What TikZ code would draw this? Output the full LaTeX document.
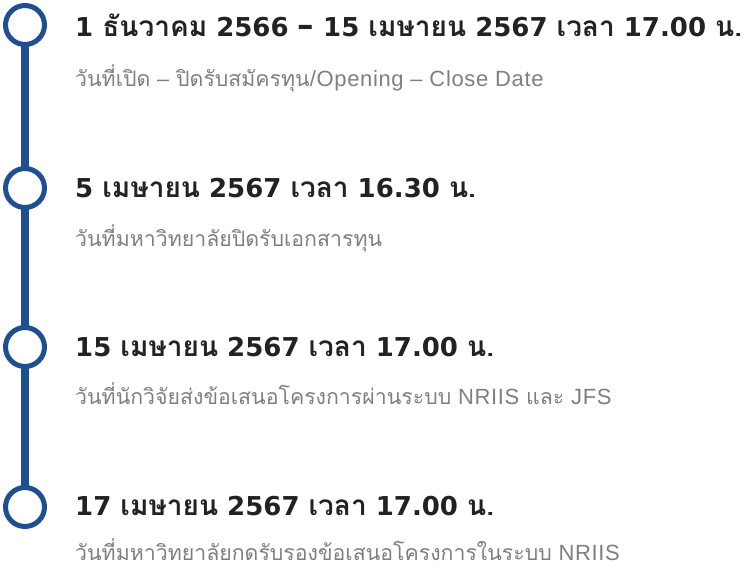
\documentclass[tikz,border=0pt]{standalone}
\usepackage{fontspec}
\setmainfont{Liberation Sans}
\newfontfamily\thaifont[Script=Thai]{Loma}
\newfontfamily\ttlfont{DejaVu Sans}
\newfontfamily\subfont[LetterSpace=3]{Liberation Sans}
\newcommand{\T}[1]{{\thaifont\fontsize{28}{30}\selectfont #1}}
\newcommand{\Ts}[1]{{\thaifont\fontsize{21.3}{24}\selectfont #1}}
\newcommand{\bigdash}{{\fontsize{33}{30}\selectfont –}}
\definecolor{tlblue}{HTML}{1E4F91}
\definecolor{tldark}{HTML}{222222}
\definecolor{tlgray}{HTML}{7F7F7F}
\begin{document}
\begin{tikzpicture}[x=1pt,y=1pt,
  dot/.style={circle,draw=tlblue,line width=5pt,fill=white,minimum size=39pt,inner sep=0pt},
  ttl/.style={anchor=base west,inner sep=0pt,text=tldark,font=\ttlfont\fontsize{26}{30}\selectfont\bfseries},
  sub/.style={anchor=base west,inner sep=0pt,text=tlgray,font=\subfont\fontsize{22}{24}\selectfont},
  rail/.style={draw=tlblue,line width=8pt}]
\useasboundingbox (0,0) rectangle (747,568);
\coordinate (c1c) at (25,543);
\coordinate (c2c) at (25,380);
\coordinate (c3c) at (25,221);
\coordinate (c4c) at (25,61);
\path[rail] (c1c) -- (c4c);
\node[dot] (c1) at (c1c) {};
\node[dot] (c2) at (c2c) {};
\node[dot] (c3) at (c3c) {};
\node[dot] (c4) at (c4c) {};
\node[ttl] (t1) at (75,531) {1 \T{ธันวาคม} 2566 \bigdash{} 15 \T{เมษายน} 2567 \T{เวลา} 17.00 \T{น.}};
\node[sub] (s1) at (75,481) {\Ts{วันที่เปิด} – \Ts{ปิดรับสมัครทุน}/Opening – Close Date};
\node[ttl] (t2) at (75,370) {5 \T{เมษายน} 2567 \T{เวลา} 16.30 \T{น.}};
\node[sub] (s2) at (75,321) {\Ts{วันที่มหาวิทยาลัยปิดรับเอกสารทุน}};
\node[ttl] (t3) at (75,211) {15 \T{เมษายน} 2567 \T{เวลา} 17.00 \T{น.}};
\node[sub] (s3) at (75,163) {\Ts{วันที่นักวิจัยส่งข้อเสนอโครงการผ่านระบบ} NRIIS \Ts{และ} JFS};
\node[ttl] (t4) at (75,53) {17 \T{เมษายน} 2567 \T{เวลา} 17.00 \T{น.}};
\node[sub] (s4) at (75,8) {\Ts{วันที่มหาวิทยาลัยกดรับรองข้อเสนอโครงการในระบบ} NRIIS};
\end{tikzpicture}
\end{document}
